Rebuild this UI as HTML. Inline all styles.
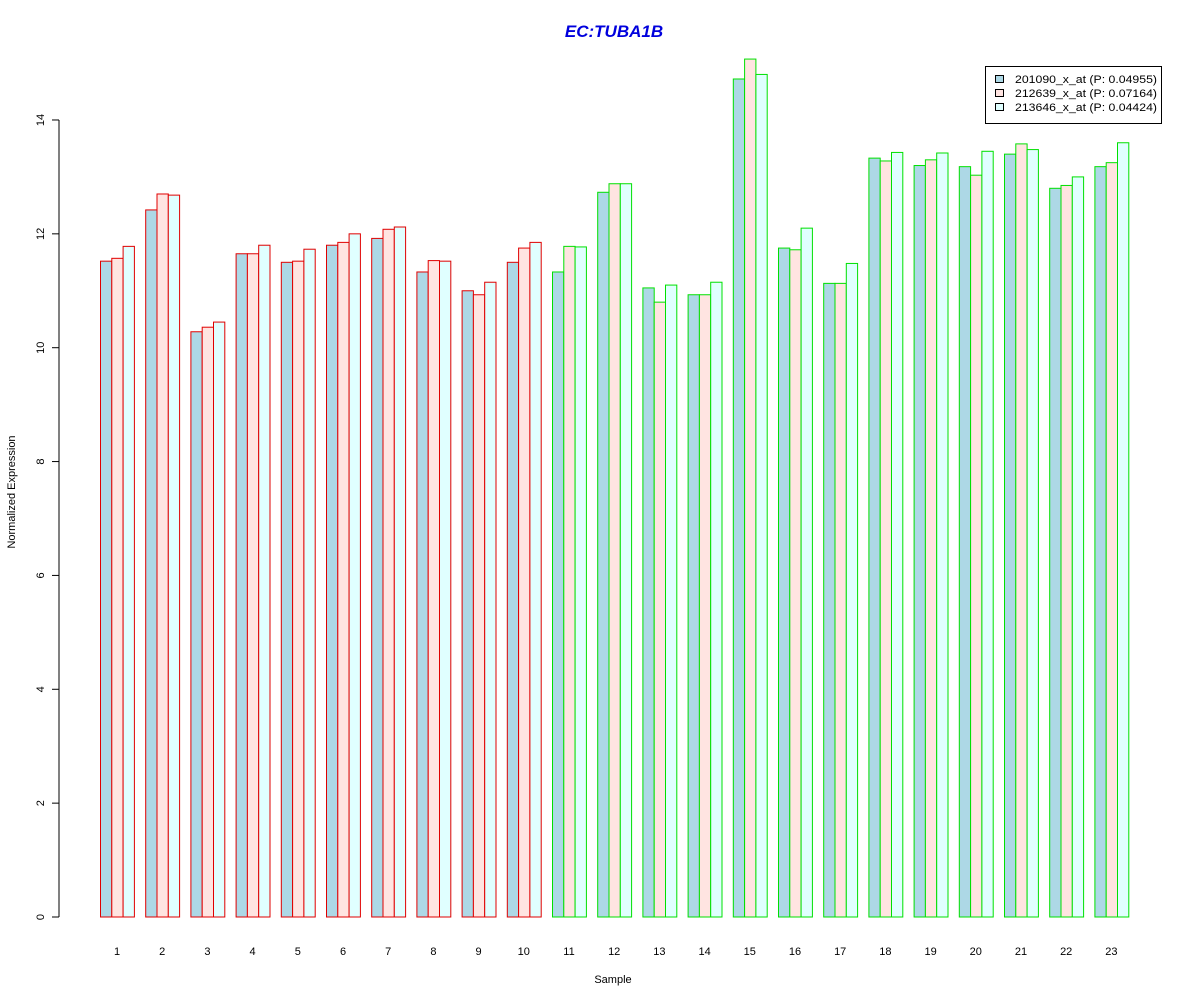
<!DOCTYPE html>
<html><head><meta charset="utf-8"><style>body{margin:0;background:#fff}svg{display:block;font-family:"Liberation Sans",Arial,sans-serif}</style></head>
<body>
<svg id="s" width="1200" height="1000" xmlns="http://www.w3.org/2000/svg">
<rect width="1200" height="1000" fill="#fff"/>
<text x="614" y="37" text-anchor="middle" font-size="17" font-weight="bold" font-style="italic" fill="#0000DD">EC:TUBA1B</text>
<line x1="59" y1="120" x2="59" y2="917" stroke="#000"/>
<text x="613" y="983" text-anchor="middle" font-size="11">Sample</text>
<text transform="translate(15,492) rotate(-90)" text-anchor="middle" font-size="11">Normalized Expression</text>
<g id="g"></g>
<rect x="985.5" y="66.5" width="176" height="57" fill="#fff" stroke="#000"/>
<rect x="995.5" y="75.5" width="8" height="7" fill="#ADD8E6" stroke="#000"/>
<rect x="995.5" y="89.5" width="8" height="7" fill="#FFE4E1" stroke="#000"/>
<rect x="995.5" y="103.5" width="8" height="7" fill="#E0FFFF" stroke="#000"/>
<text x="1015" y="83" font-size="11" textLength="142" lengthAdjust="spacingAndGlyphs">201090_x_at (P: 0.04955)</text>
<text x="1015" y="97" font-size="11" textLength="142" lengthAdjust="spacingAndGlyphs">212639_x_at (P: 0.07164)</text>
<text x="1015" y="111" font-size="11" textLength="142" lengthAdjust="spacingAndGlyphs">213646_x_at (P: 0.04424)</text>
</svg>
<script>
var d=[[11.52,11.57,11.78],[12.42,12.7,12.68],[10.28,10.36,10.45],[11.65,11.65,11.8],[11.5,11.52,11.73],[11.8,11.85,12.0],[11.92,12.08,12.12],[11.33,11.53,11.52],[11.0,10.93,11.15],[11.5,11.75,11.85],[11.33,11.78,11.77],[12.73,12.88,12.88],[11.05,10.8,11.1],[10.93,10.93,11.15],[14.72,15.07,14.8],[11.75,11.72,12.1],[11.13,11.13,11.48],[13.33,13.28,13.43],[13.2,13.3,13.42],[13.18,13.03,13.45],[13.4,13.58,13.48],[12.8,12.85,13.0],[13.18,13.25,13.6]];
var f=["#ADD8E6","#FFE4E1","#E0FFFF"],s="",k=56.93,y0=917;
for(var i=0;i<=14;i+=2){var y=y0-i*k;s+='<line x1="52" y1="'+y+'" x2="59" y2="'+y+'" stroke="#000"/><text transform="translate(44,'+y+') rotate(-90)" text-anchor="middle" font-size="11">'+i+'</text>';}
for(var g=0;g<23;g++){var c=g<10?"#E00000":"#00E000";var x0=100.5+g*45.2;
for(var j=0;j<3;j++){var h=d[g][j]*k;s+='<rect x="'+(x0+j*11.3)+'" y="'+(y0-h)+'" width="11.3" height="'+h+'" fill="'+f[j]+'" stroke="'+c+'"/>';}
s+='<text x="'+(x0+16.5)+'" y="955" text-anchor="middle" font-size="11">'+(g+1)+'</text>';}
document.getElementById("g").innerHTML=s;
</script>
</body></html>
